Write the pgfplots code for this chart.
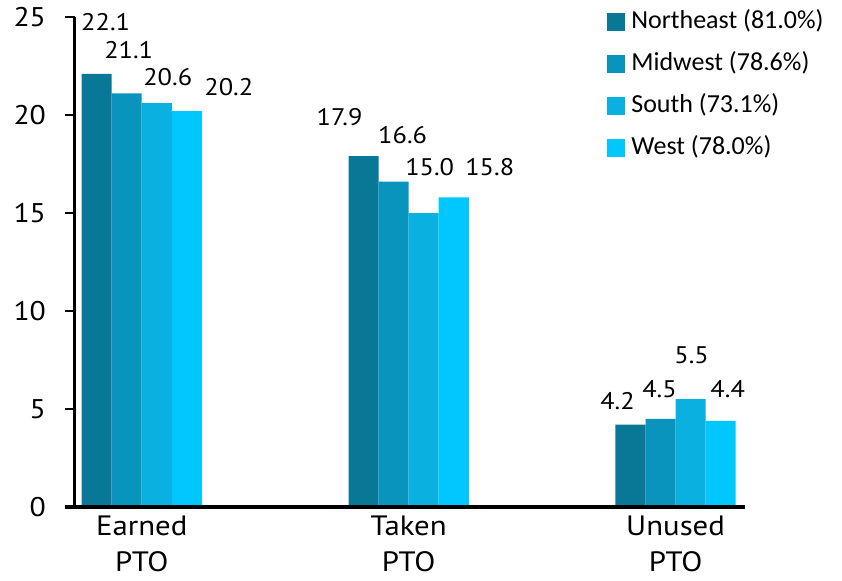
\documentclass[border=0pt]{standalone}
\usepackage{fontspec}
\setmainfont{PT Sans}[FakeStretch=1.1]
\newfontfamily\legfont{Carlito}
\usepackage{pgfplots}
\usepackage{pgfplotstable}
\pgfplotsset{compat=1.18}

\definecolor{cNE}{RGB}{9,120,150}
\definecolor{cMW}{RGB}{9,148,190}
\definecolor{cSO}{RGB}{10,176,224}
\definecolor{cWE}{RGB}{0,200,255}

% columns: category index, days, label offset (pt)
\pgfplotstableread{
x y dx dy
0 22.1 4.5 26
1 17.9 -12 19.5
2 4.2 -6.5 12
}\northeast
\pgfplotstableread{
x y dx dy
0 21.1 1 21.5
1 16.6 4.5 23.5
2 4.5 -0.5 15
}\midwest
\pgfplotstableread{
x y dx dy
0 20.6 5.5 13
1 15.0 3 23
2 5.5 0.5 22
}\south
\pgfplotstableread{
x y dx dy
0 20.2 21 12
1 15.8 18 15
2 4.4 3.5 16
}\west

\begin{document}
\begin{tikzpicture}
\useasboundingbox (-37.5pt,-36.5pt) rectangle (383.5pt,253.5pt);
\begin{axis}[
  at={(0,0)}, anchor=south west,
  scale only axis, width=335pt, height=245pt,
  clip=false,
  /pgf/number format/assume math mode=true,
  ybar=0pt, bar width=0.1126,
  xmin=-0.25, xmax=2.26, ymin=0, ymax=25,
  axis lines*=left,
  axis line style={draw=none},
  ytick={0,5,...,25},
  tick align=outside, major tick length=5pt,
  ytick style={line width=1.1pt, black},
  yticklabel style={font=\fontsize{13.5}{15}\selectfont, xshift=-6pt},
  xtick={0,1,2},
  xticklabels={Earned\\PTO, Taken\\PTO, Unused\\PTO},
  xticklabel style={font=\fontsize{14}{18}\selectfont, align=center, yshift=4pt},
  x tick style={draw=none},
  visualization depends on={\thisrow{dx} \as \dx},
  visualization depends on={\thisrow{dy} \as \dy},
  nodes near coords={\pgfmathprintnumber[fixed, fixed zerofill, precision=1]{\pgfplotspointmeta}},
  nodes near coords style={font=\fontsize{12}{14}\selectfont, black, anchor=center, xshift=\dx pt, yshift=\dy pt},
  legend style={at={(0.785,1.0245)}, anchor=north west, draw=none, fill=none,
    font=\legfont\fontsize{13}{15}\selectfont, row sep=8.5pt, column sep=3pt,
    nodes={inner sep=0pt, text height=9.5pt, text depth=3pt}},
  legend cell align=left,
  legend image code/.code={\fill[#1, draw=none] (0pt,-4.5pt) rectangle (9pt,4.5pt);},
]
\addplot[fill=cNE, draw=none] table[x=x, y=y] {\northeast};
\addplot[fill=cMW, draw=none] table[x=x, y=y] {\midwest};
\addplot[fill=cSO, draw=none] table[x=x, y=y] {\south};
\addplot[fill=cWE, draw=none] table[x=x, y=y] {\west};
\legend{Northeast (81.0\%), Midwest (78.6\%), South (73.1\%), West (78.0\%)}
% axis lines: the baseline runs a little past the vertical axis
\draw[line width=1.5pt] (rel axis cs:0,0) -- (rel axis cs:0,1);
\draw[line width=1.7pt] ([xshift=-5pt]rel axis cs:0,0) -- (rel axis cs:1,0);
\end{axis}
\end{tikzpicture}
\end{document}
